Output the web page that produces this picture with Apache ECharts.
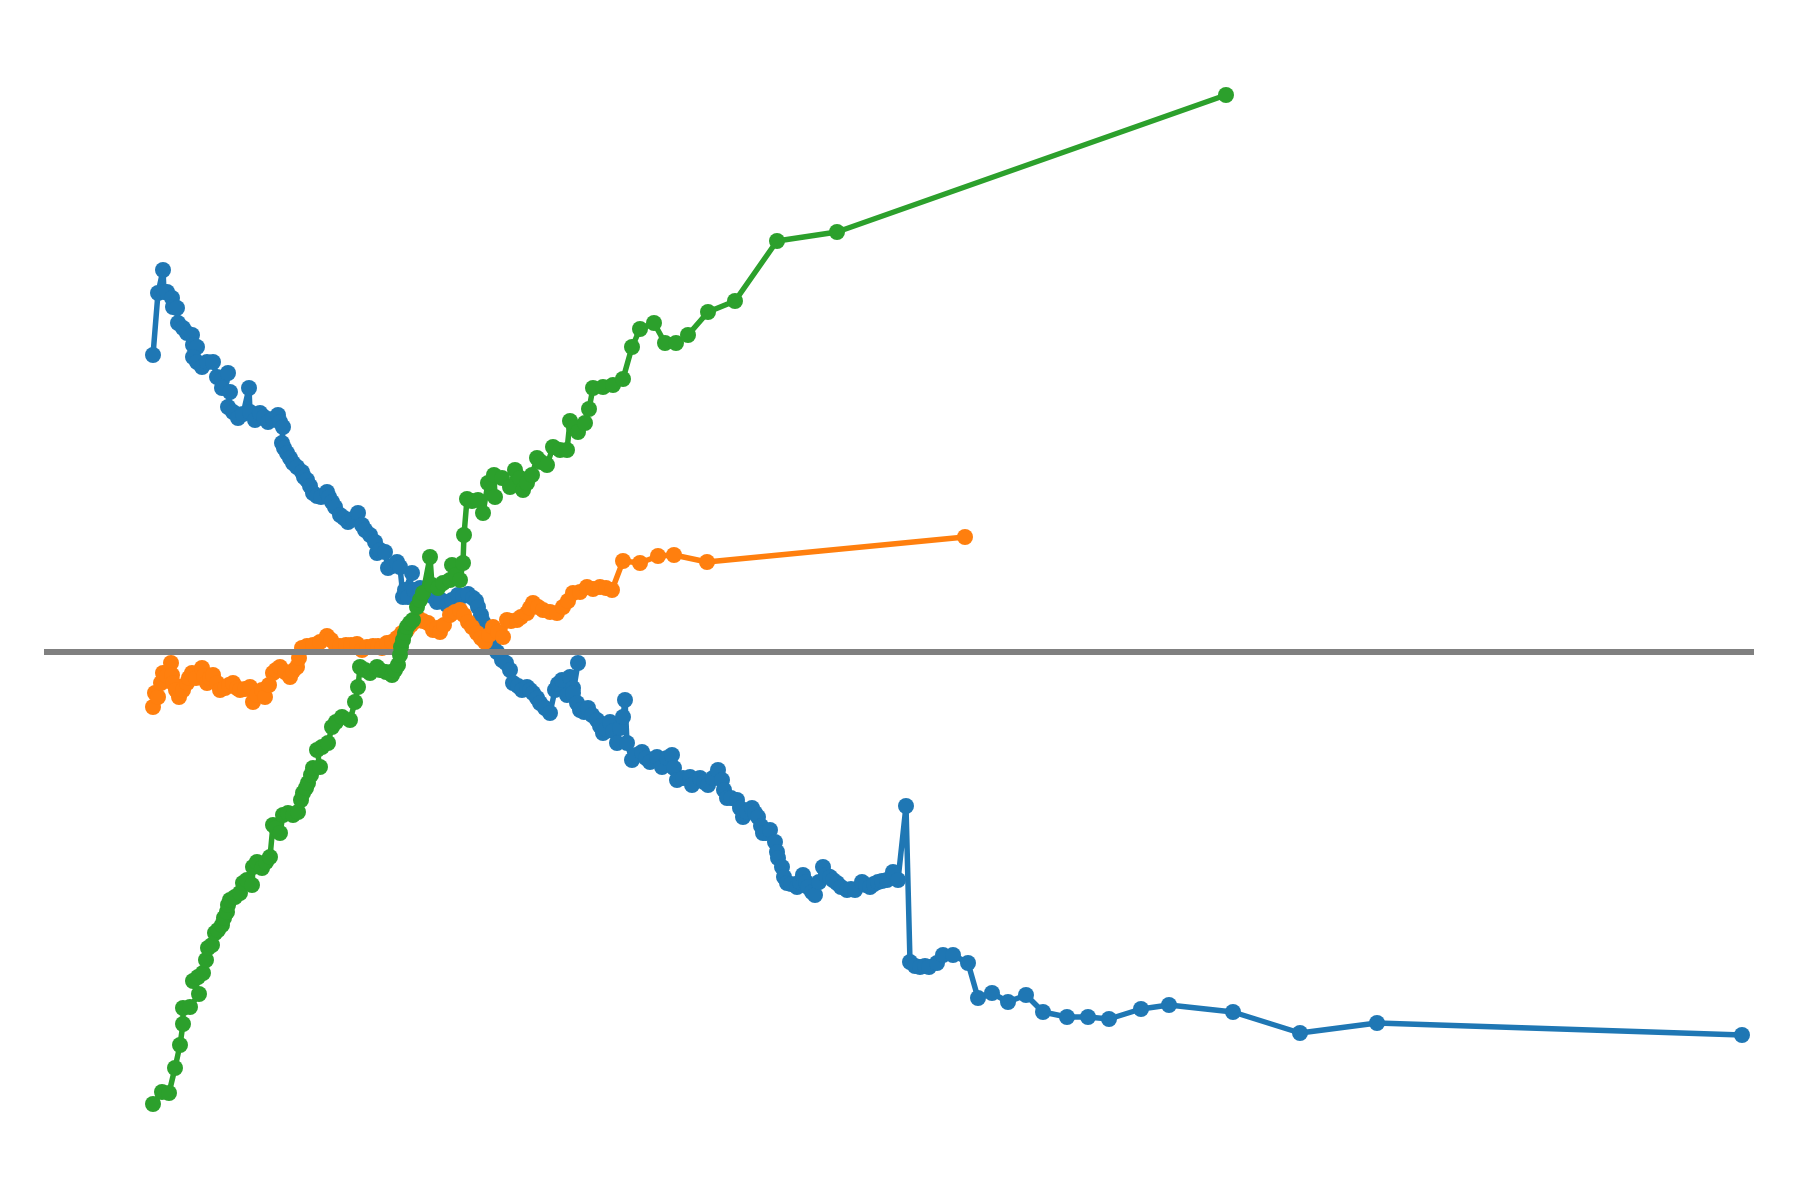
<!DOCTYPE html>
<html>
<head>
<meta charset="utf-8">
<script src="https://cdn.jsdelivr.net/npm/echarts@6/dist/echarts.min.js"></script>
<style>
html,body{margin:0;padding:0;background:#fff;}
#chart{width:1800px;height:1200px;}
</style>
</head>
<body>
<div id="chart"></div>
<script>
// Values: [x, y] pairs per series
const blueSeries = [
[0.1,29.7],[0.6,35.9],[1.1,38.2],[1.2,36.0],[1.5,36.0],[2.0,35.4],[2.1,34.5],[2.5,34.4],[2.6,32.9],[3.1,32.4],
[3.5,31.9],[4.0,31.7],[4.1,30.7],[4.5,30.5],[4.1,29.5],[4.5,29.0],[5.0,28.5],[5.5,29.0],[6.1,29.0],[6.5,27.5],
[7.0,27.2],[7.6,27.9],[7.0,26.4],[7.8,26.0],[7.6,24.5],[8.1,24.0],[8.6,23.4],[9.1,23.8],[9.7,26.4],[9.8,24.0],
[10.3,23.2],[10.8,23.9],[11.2,23.5],[11.6,23.0],[12.1,23.3],[12.6,23.7],[12.8,23.0],[13.1,22.5],[13.0,20.9],[13.2,20.4],
[13.5,19.9],[13.8,19.4],[14.1,18.9],[14.5,18.5],[15.0,18.0],[15.2,17.5],[15.5,17.2],[15.8,16.6],[16.1,15.9],[16.5,15.6],
[16.9,15.5],[17.5,16.0],[17.7,15.5],[18.0,15.0],[18.3,14.5],[18.8,13.7],[19.2,13.4],[19.6,13.0],[20.1,13.3],[20.6,13.9],
[21.0,12.7],[21.3,12.2],[21.8,11.7],[22.3,11.0],[22.5,9.9],[22.8,10.2],[23.3,10.0],[23.6,8.4],[24.0,8.6],[24.5,9.0],
[24.8,8.5],[25.1,5.5],[25.3,6.2],[26.0,7.9],[25.6,5.5],[26.2,6.2],[26.8,6.4],[27.2,5.9],[27.6,6.2],[28.0,5.6],
[28.5,5.0],[28.9,5.2],[29.5,4.7],[30.0,5.2],[30.6,5.7],[31.1,5.6],[31.6,5.8],[32.1,5.4],[32.4,5.1],[32.6,4.5],
[32.9,3.7],[33.1,3.0],[33.5,2.2],[33.8,1.5],[34.1,0.7],[34.5,0.0],[35.0,-0.8],[35.4,-1.1],[35.8,-1.8],[36.1,-3.1],
[36.6,-3.4],[37.0,-3.8],[37.5,-3.5],[37.8,-3.8],[38.1,-4.1],[38.5,-4.6],[38.8,-5.1],[39.3,-5.6],[39.8,-6.1],[40.3,-3.8],
[40.6,-3.2],[41.0,-2.8],[41.5,-4.3],[41.8,-2.5],[42.1,-3.6],[42.6,-1.1],[42.1,-4.1],[42.5,-5.1],[42.8,-5.8],[43.2,-6.0],
[43.6,-5.6],[44.0,-6.3],[44.5,-6.8],[44.8,-7.4],[45.1,-8.1],[45.4,-7.7],[45.8,-7.0],[46.1,-7.9],[46.5,-9.1],[46.8,-7.6],
[47.1,-6.5],[47.3,-4.8],[47.5,-9.1],[48.0,-10.8],[48.4,-10.3],[49.0,-10.0],[49.4,-10.6],[49.8,-11.0],[50.5,-10.5],[51.0,-11.5],
[51.5,-10.6],[52.0,-10.3],[52.2,-11.6],[52.5,-12.8],[53.1,-12.6],[53.8,-12.5],[54.0,-13.3],[54.8,-12.6],[55.2,-13.0],[55.6,-13.3],
[56.1,-12.6],[56.6,-11.8],[57.0,-12.8],[57.2,-13.8],[57.5,-14.6],[57.9,-14.6],[58.5,-14.8],[58.8,-15.6],[59.1,-16.5],[59.5,-16.0],
[60.0,-15.6],[60.3,-16.1],[60.6,-16.5],[60.9,-17.4],[61.1,-18.1],[61.4,-18.1],[61.8,-17.8],[62.3,-19.0],[62.5,-20.0],[62.6,-20.6],
[63.0,-21.5],[63.2,-22.5],[63.5,-23.1],[63.9,-23.2],[64.5,-23.5],[64.8,-23.0],[65.1,-22.3],[65.4,-23.0],[65.6,-23.5],[66.0,-24.0],
[66.3,-24.3],[66.7,-23.0],[67.1,-21.5],[67.4,-22.3],[67.8,-22.5],[68.1,-22.8],[68.5,-23.1],[68.9,-23.5],[69.5,-23.8],[69.9,-23.7],
[70.3,-23.8],[71.0,-23.0],[71.4,-23.3],[71.8,-23.5],[72.2,-23.2],[72.6,-23.0],[73.0,-22.9],[73.5,-22.8],[74.1,-22.0],[74.6,-22.8],
[75.4,-15.4],[75.8,-31.0],[76.3,-31.4],[76.8,-31.5],[77.3,-31.4],[77.7,-31.5],[78.5,-31.1],[79.1,-30.3],[80.1,-30.3],[81.6,-31.1],
[82.6,-34.6],[84.0,-34.1],[85.6,-35.0],[87.4,-34.3],[89.1,-36.0],[91.5,-36.5],[93.6,-36.5],[95.7,-36.7],[98.9,-35.7],[101.7,-35.3],
[108.1,-36.0],[114.8,-38.1],[122.5,-37.1],[159.0,-38.3]
];
const orangeSeries = [
[0.1,-5.5],[0.3,-4.1],[0.6,-4.5],[0.9,-3.1],[1.1,-2.1],[1.5,-2.4],[1.9,-1.1],[2.0,-2.3],[2.1,-3.1],[2.4,-3.8],
[2.7,-4.5],[3.1,-3.8],[3.5,-3.1],[3.7,-2.6],[4.0,-2.1],[4.4,-2.6],[5.0,-1.6],[5.2,-2.4],[5.5,-3.1],[5.8,-2.6],
[6.1,-2.3],[6.5,-3.1],[6.8,-3.8],[7.3,-3.6],[7.7,-3.3],[8.1,-3.1],[8.5,-3.6],[8.8,-3.8],[9.3,-3.7],[9.8,-3.5],
[10.1,-5.0],[10.5,-4.3],[11.0,-3.8],[11.3,-4.5],[11.7,-3.3],[12.1,-2.1],[12.4,-1.8],[12.8,-1.5],[13.3,-2.0],[13.8,-2.5],
[14.1,-1.9],[14.5,-1.5],[14.7,-0.6],[15.0,0.4],[15.5,0.6],[16.1,0.7],[16.8,1.0],[17.5,1.6],[17.9,1.2],[18.4,0.6],
[18.8,0.6],[19.4,0.7],[19.9,0.7],[20.5,0.8],[21.0,0.2],[21.5,0.5],[22.1,0.6],[22.6,0.6],[23.0,0.4],[23.5,0.9],
[24.0,1.0],[24.5,1.4],[25.0,1.9],[25.5,2.2],[25.9,2.7],[26.2,3.0],[26.6,3.4],[27.1,3.1],[27.6,2.9],[28.1,2.2],
[28.5,2.4],[28.8,2.0],[29.2,2.7],[29.8,3.7],[30.3,4.0],[30.8,4.2],[31.2,3.7],[31.6,3.0],[32.0,2.5],[32.5,1.9],
[32.9,1.4],[33.3,1.0],[33.7,1.7],[34.1,2.5],[34.6,2.0],[35.1,1.5],[35.5,3.2],[35.9,3.1],[36.5,3.2],[36.9,3.5],
[37.5,3.9],[37.8,4.4],[38.1,4.9],[38.6,4.5],[39.1,4.2],[39.8,4.0],[40.5,3.9],[41.1,4.5],[41.6,5.1],[42.1,5.9],
[42.8,6.0],[43.5,6.5],[44.1,6.3],[44.8,6.5],[45.4,6.4],[46.0,6.2],[47.1,9.1],[48.8,8.9],[50.6,9.6],[52.2,9.7],
[55.5,9.0],[81.3,11.5]
];
const greenSeries = [
[0.1,-45.2],[1.0,-44.0],[1.7,-44.1],[2.3,-41.6],[2.8,-39.3],[3.1,-37.2],[3.1,-35.6],[3.8,-35.5],[4.7,-34.2],[4.1,-32.9],
[4.6,-32.5],[5.1,-32.1],[5.4,-30.8],[5.6,-29.6],[6.0,-29.3],[6.3,-28.1],[6.6,-27.8],[7.0,-27.3],[7.2,-26.6],[7.5,-26.0],
[7.6,-25.3],[7.8,-24.8],[8.3,-24.5],[8.8,-24.1],[9.1,-23.1],[9.5,-22.8],[10.0,-23.3],[10.1,-21.5],[10.5,-21.0],[11.0,-21.6],
[11.4,-21.0],[11.8,-20.5],[12.1,-17.3],[12.4,-17.6],[12.8,-18.1],[13.1,-16.3],[13.6,-16.1],[14.1,-16.3],[14.6,-16.0],[14.9,-14.8],
[15.1,-14.1],[15.4,-13.6],[15.6,-13.1],[15.9,-12.3],[16.1,-11.6],[16.8,-11.5],[16.5,-9.8],[17.0,-9.5],[17.6,-9.1],[18.0,-7.5],
[18.4,-7.0],[19.0,-6.5],[19.8,-6.8],[20.3,-5.0],[20.6,-3.5],[20.8,-1.5],[21.3,-1.8],[21.8,-2.1],[22.5,-1.5],[22.8,-1.8],
[23.4,-2.0],[24.0,-2.3],[24.3,-1.8],[24.6,-1.3],[24.8,-0.3],[24.9,0.5],[25.1,1.2],[25.3,1.9],[25.5,2.5],[25.8,2.9],
[26.1,3.2],[26.5,4.5],[26.8,5.2],[27.1,5.9],[27.8,9.5],[28.0,6.7],[28.6,6.4],[29.1,6.9],[29.8,7.2],[30.0,8.7],
[30.4,7.7],[30.8,7.2],[31.1,8.9],[31.2,11.7],[31.5,15.3],[32.0,15.1],[32.6,15.2],[33.1,13.9],[33.6,16.9],[34.3,15.5],
[34.2,17.7],[35.0,17.4],[35.8,16.5],[36.3,18.2],[36.8,17.4],[37.1,16.2],[37.5,16.9],[38.0,17.7],[38.5,19.4],[38.9,19.0],
[39.5,18.7],[40.1,20.5],[40.8,20.2],[41.5,20.2],[41.8,23.1],[42.2,22.5],[42.6,22.0],[43.3,22.9],[43.7,24.3],[44.1,26.4],
[45.1,26.5],[46.1,26.7],[47.1,27.3],[48.0,30.5],[48.8,32.3],[50.2,32.9],[51.3,30.9],[52.4,30.9],[53.6,31.7],[55.6,34.0],
[58.3,35.1],[62.5,41.1],[68.5,42.0],[107.4,55.7]
];
const baselineX = [-10.8, 160.2];
const baselineY = 0;

const chart = echarts.init(document.getElementById('chart'), null, {renderer: 'canvas'});
function mkSeries(name, data, color, z) {
  return {
    type: 'line', name: name, data: data, z: z,
    symbol: 'circle', symbolSize: 16, showSymbol: true,
    itemStyle: {color: color},
    lineStyle: {width: 5.5, color: color},
    animation: false, emphasis: {disabled: true}
  };
}
chart.setOption({
  backgroundColor: '#ffffff',
  animation: false,
  grid: {left: 0, right: 0, top: 0, bottom: 0, containLabel: false},
  xAxis: {type: 'value', min: -15.2, max: 164.8, show: false, splitLine: {show: false}},
  yAxis: {type: 'value', min: -54.8, max: 65.2, show: false, splitLine: {show: false}},
  series: [
    mkSeries('blue', blueSeries, '#1f77b4', 2),
    mkSeries('orange', orangeSeries, '#ff7f0e', 3),
    {type: 'line', name: 'baseline', data: baselineX.map(x => [x, baselineY]), showSymbol: false, symbol: 'none', lineStyle: {width: 6, color: '#808080'}, z: 4, animation: false, emphasis: {disabled: true}},
    mkSeries('green', greenSeries, '#2ca02c', 5)
  ]
});
</script>
</body>
</html>
